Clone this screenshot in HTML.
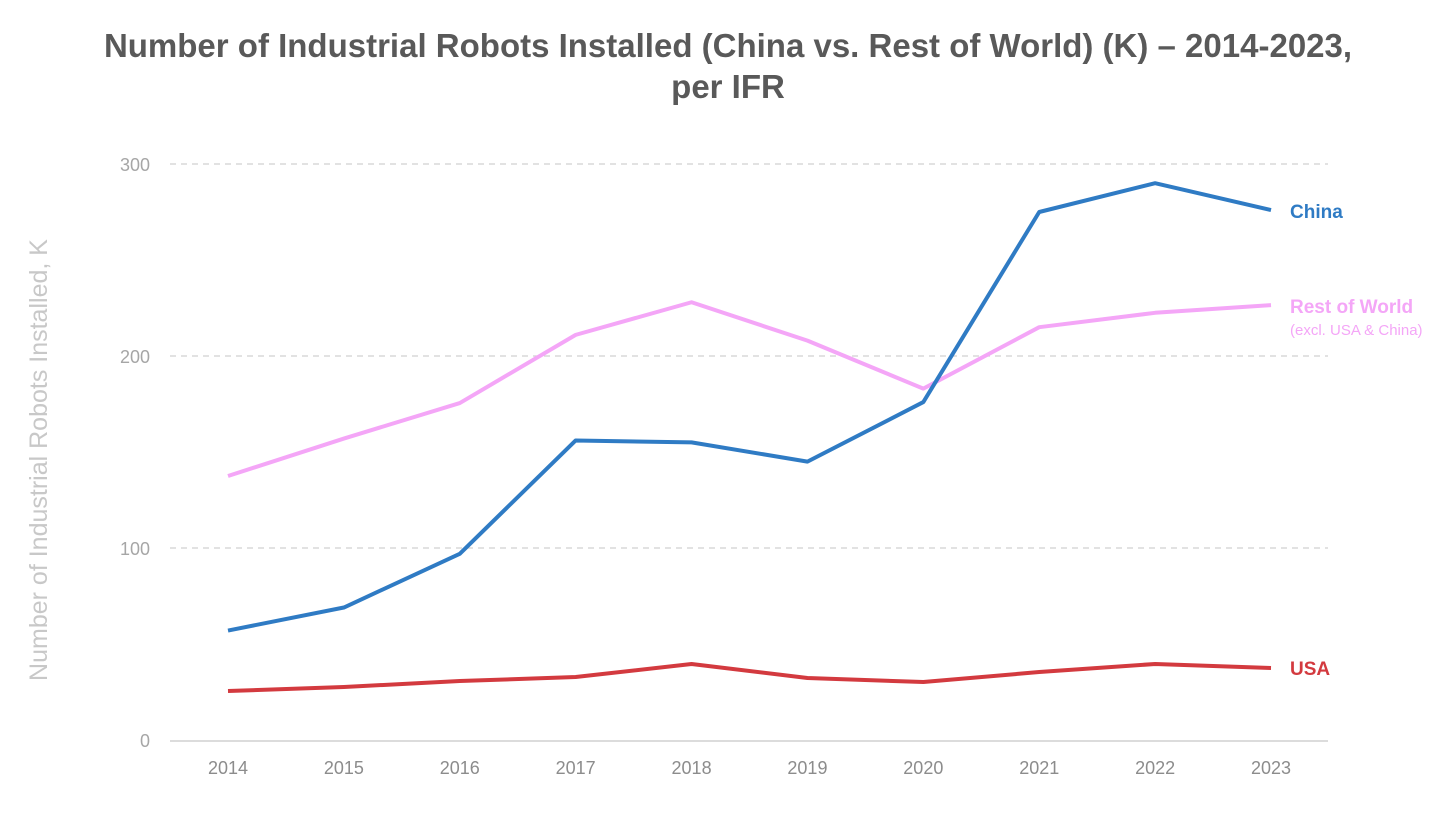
<!DOCTYPE html>
<html><head><meta charset="utf-8"><style>
body{margin:0;background:#fff;font-family:"Liberation Sans",sans-serif}
</style></head><body>
<svg id="chart" width="1456" height="813" xmlns="http://www.w3.org/2000/svg" font-family="Liberation Sans, sans-serif">
<text x="728" y="57" text-anchor="middle" font-size="33" font-weight="bold" fill="#595959">Number of Industrial Robots Installed (China vs. Rest of World) (K) – 2014-2023,</text>
<text x="728" y="98" text-anchor="middle" font-size="33" font-weight="bold" fill="#595959">per IFR</text>
<text transform="translate(47,460) rotate(-90)" text-anchor="middle" font-size="25" fill="#c8c8c8">Number of Industrial Robots Installed, K</text>
<g id="grid"></g><g id="lines"></g>
</svg>
<script>
const years=[2014,2015,2016,2017,2018,2019,2020,2021,2022,2023];
const china=[57,69,97,156,155,145,176,275,290,276];
const row=[137.5,157,175.5,211,228,208,183,215,222.5,226.5];
const usa=[25.5,27.6,30.7,32.8,39.6,32.3,30.2,35.4,39.6,37.5];
const yTicks=[0,100,200,300];
const NS="http://www.w3.org/2000/svg";
const x=i=>228+i*(1271-228)/9;
const y=v=>740-v*1.92;
const svg=document.getElementById('chart'),grid=document.getElementById('grid'),lines=document.getElementById('lines');
function mk(t,a,p){const e=document.createElementNS(NS,t);for(const k in a)e.setAttribute(k,a[k]);p.appendChild(e);return e;}
yTicks.forEach(v=>{
 if(v>0){const l=mk('line',{x1:170,x2:1328,y1:y(v),y2:y(v),stroke:'#d0d0d0','stroke-width':1.3,'stroke-dasharray':'6,5'},grid);
 
 }
 const t=mk('text',{x:150,y:y(v)+7,'text-anchor':'end','font-size':18,fill:'#a6a6a6'},grid);t.textContent=v;
 
 
});
const ax=mk('line',{x1:170,x2:1328,y1:741,y2:741,stroke:'#d0d0d0','stroke-width':1.5},grid);


years.forEach((yr,i)=>{const t=mk('text',{x:x(i),y:774,'text-anchor':'middle','font-size':18,fill:'#8c8c8c'},grid);t.textContent=yr;
 
 });
[[row,'#f4a6f7','rest-of-world-line'],[china,'#2f7bc4','china-line'],[usa,'#d33a3f','usa-line']].forEach(([d,c,n])=>{
 const p=mk('polyline',{points:d.map((v,i)=>x(i)+','+y(v)).join(' '),fill:'none',stroke:c,'stroke-width':4,'stroke-linejoin':'round'},lines);
 
 
});
function lab(txt,yy,c,size,w,n){const t=mk('text',{x:1290,y:yy,'font-size':size,'font-weight':w,fill:c},lines);t.textContent=txt;
 
 }
lab('China',y(china[9])+8,'#2f7bc4',19,'bold','china-label');
lab('Rest of World',y(row[9])+8,'#f4a6f7',19,'bold','row-label');
lab('(excl. USA & China)',y(row[9])+30,'#f4a6f7',15,'normal','row-sublabel');
lab('USA',y(usa[9])+7,'#d33a3f',19,'bold','usa-label');
</script>
</body></html>
